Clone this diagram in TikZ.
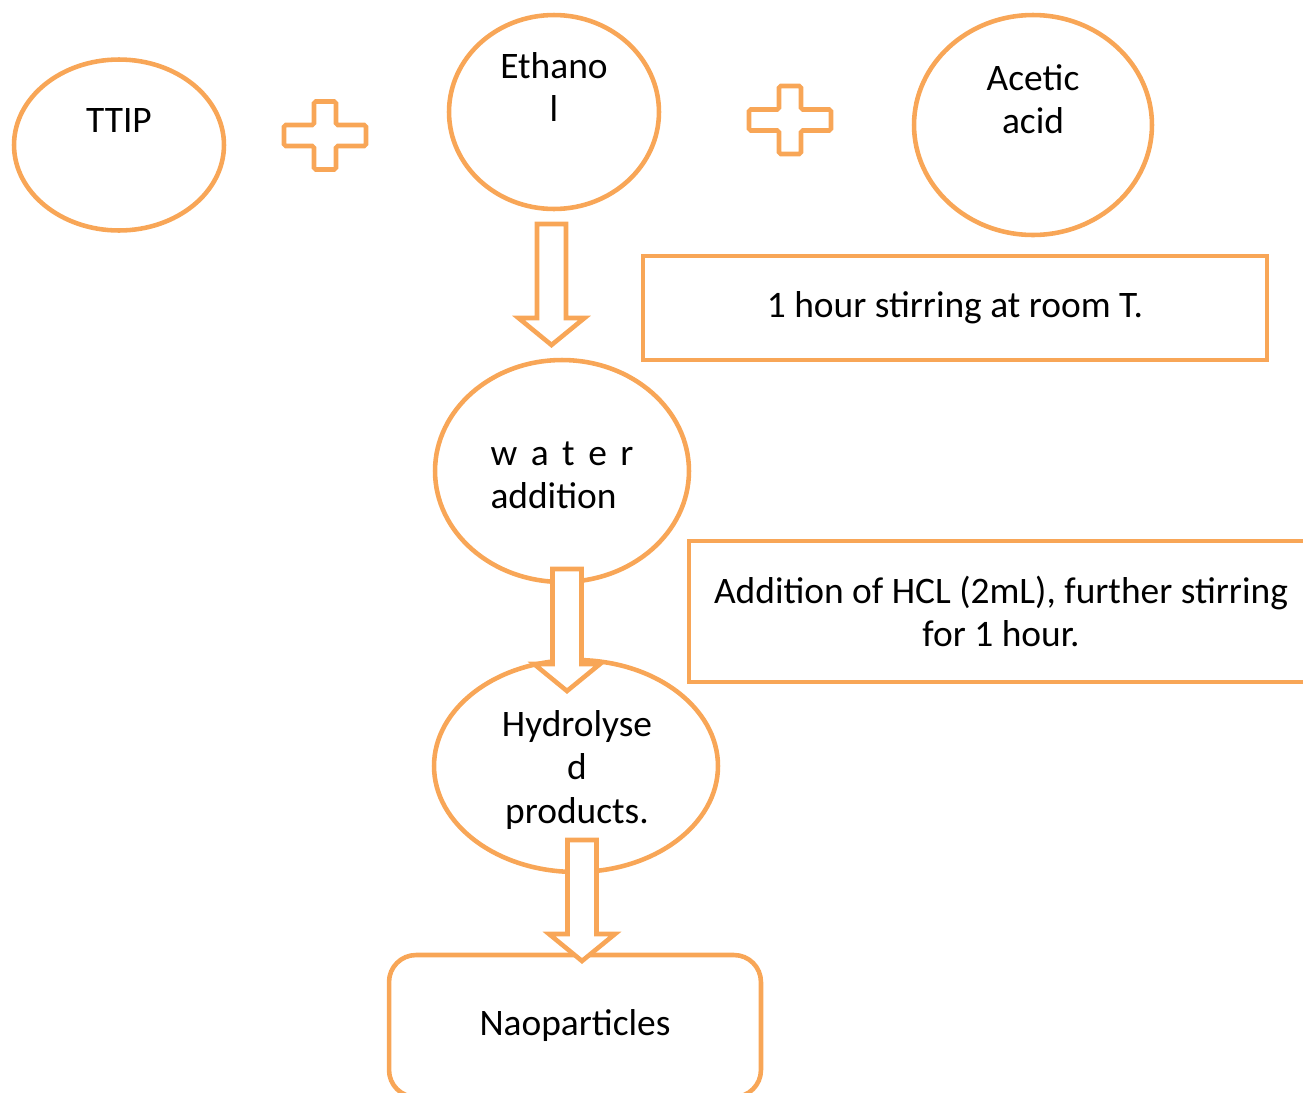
\documentclass[tikz,border=0pt]{standalone}
\usepackage{fontspec}
\setmainfont{Carlito}
\usetikzlibrary{shapes.geometric, calc}
\definecolor{mixorange}{HTML}{F8A657}
% plus sign centred at #1
\newcommand{\plussign}[1]{%
  \draw[outline, rounded corners=1pt]
    ($(#1)+(-11,-34)$) -- ($(#1)+(11,-34)$) -- ($(#1)+(11,-10.5)$) -- ($(#1)+(41,-10.5)$)
    -- ($(#1)+(41,10.5)$) -- ($(#1)+(11,10.5)$) -- ($(#1)+(11,34)$) -- ($(#1)+(-11,34)$)
    -- ($(#1)+(-11,10.5)$) -- ($(#1)+(-41,10.5)$) -- ($(#1)+(-41,-10.5)$) -- ($(#1)+(-11,-10.5)$) -- cycle;}
% block arrow from #1 (top of shaft) down to #2 (tip)
\newcommand{\blockarrow}[2]{%
  \draw[arrowline]
    ($(#1)+(-14.5,0)$) -- ($(#1)+(14.5,0)$) -- ($(#2)+(14.5,-27)$) -- ($(#2)+(33,-27)$)
    -- (#2) -- ($(#2)+(-33,-27)$) -- ($(#2)+(-14.5,-27)$) -- cycle;}

\begin{document}
\begin{tikzpicture}[
    x=0.02cm, y=-0.02cm,
    outline/.style={draw=mixorange, line width=2.6pt},
    blob/.style={outline, ellipse, inner sep=0pt},
    stepbox/.style={outline, rectangle, align=center, inner sep=0pt},
    caption/.style={align=center, inner sep=0pt},
    arrowline/.style={outline, fill=white, line join=miter},
    font=\fontsize{21.3}{24.5}\selectfont]

    \clip (0,0) rectangle (1303,1093);

    % reagents
    \node[blob, minimum width=4.2cm, minimum height=3.42cm] (ttip) at (119,145) {};
    \node[blob, minimum width=4.2cm, minimum height=3.88cm] (ethanol) at (554,112) {};
    \node[blob, minimum width=4.76cm, minimum height=4.4cm] (acetic) at (1033,125) {};
    \node[caption] (ttiptext) at ($(ttip.center)+(0,-25)$) {TTIP};
    \node[caption] (ethanoltext) at ($(ethanol.center)+(0,-25)$) {Ethano\\l};
    \node[caption] (acetictext) at ($(acetic.center)+(0,-26)$) {Acetic\\acid};

    \coordinate (plusA) at (325,135.5);
    \coordinate (plusB) at (790,120);
    \plussign{plusA}
    \plussign{plusB}

    % steps
    \node[blob, minimum width=5.08cm, minimum height=4.44cm] (water) at (562,471) {};
    \node[caption, align=left] (watertext) at ($(water.center)+(0,4)$)
        {\makebox[2.86cm][s]{w\hfill a\hfill t\hfill e\hfill r}\\addition};
    \node[blob, minimum width=5.68cm, minimum height=4.24cm] (hydro) at (576,766) {};
    \node[caption] (hydrotext) at ($(hydro.center)+(1,4)$) {Hydrolyse\\d\\products.};

    \node[stepbox, minimum width=12.48cm, minimum height=2.08cm] (stir) at (955,308)
        {1 hour stirring at room T.};
    \node[stepbox, minimum width=12.48cm, minimum height=2.82cm] (hcl) at (1001,611.5)
        {Addition of HCL (2mL), further stirring\\for 1 hour.};
    \node[stepbox, rounded corners=0.54cm, minimum width=7.44cm, minimum height=2.84cm] (nano)
        at (575,1026) {Naoparticles};

    % block arrows
    \coordinate (arrAtop) at (551.5,224);
    \coordinate (arrAtip) at (551.5,345);
    \coordinate (arrBtop) at (567,569);
    \coordinate (arrBtip) at (567,691);
    \coordinate (arrCtop) at (582,840);
    \coordinate (arrCtip) at (582,961);
    \blockarrow{arrAtop}{arrAtip}
    \blockarrow{arrBtop}{arrBtip}
    \blockarrow{arrCtop}{arrCtip}

\end{tikzpicture}
\end{document}
